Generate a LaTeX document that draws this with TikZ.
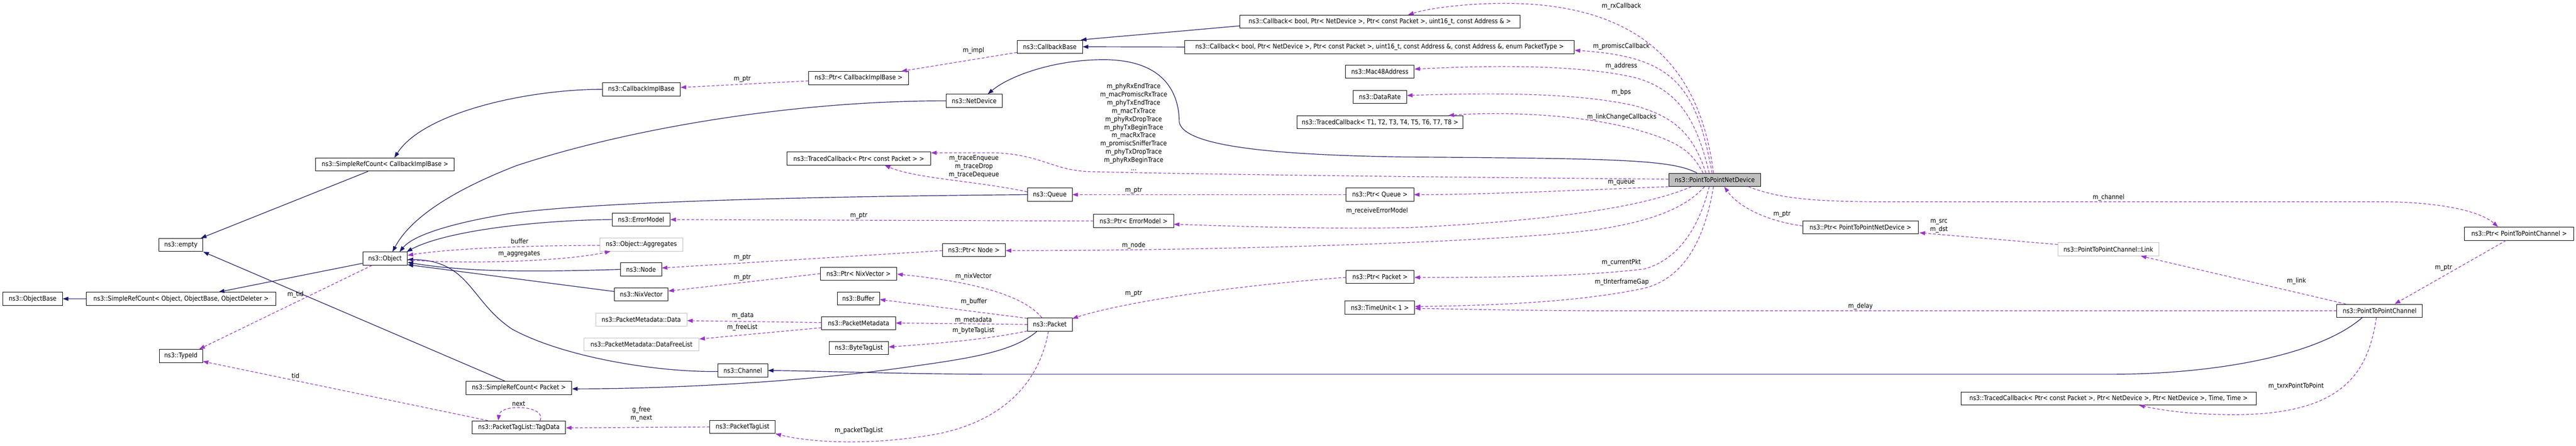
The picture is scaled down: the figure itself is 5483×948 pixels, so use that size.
\documentclass[tikz,border=0pt]{standalone}
\usepackage{fontspec}
\setmainfont{DejaVu Sans}[FakeStretch=0.89]
\usetikzlibrary{arrows.meta}
\definecolor{edgeblue}{HTML}{191970}
\definecolor{edgepurple}{HTML}{9A32CD}
\definecolor{boxgray}{HTML}{BFBFBF}
\newcommand\nf{\fontsize{14}{17.4}\selectfont}
\begin{document}
\begin{tikzpicture}[x=1pt,y=-1pt,
  box/.style={draw=black, line width=1pt, minimum height=28pt, inner sep=2pt, font=\nf, fill=white},
  gbox/.style={box, draw=boxgray},
  inh/.style={draw=edgeblue, line width=1.3pt, -{Triangle[length=12pt,width=8.5pt]}},
  use/.style={draw=edgepurple, line width=1.3pt, dash pattern=on 6pt off 4pt, -{Triangle[length=12pt,width=8.5pt]}},
  lbl/.style={font=\nf, inner sep=0pt, align=center}]
\fill[white] (0,0) rectangle (5483,948);
\useasboundingbox (0,0) rectangle (5483,948);

% ---------- nodes ----------
\node[box, minimum width=127pt] (ObjectBase) at (69.5,635.5) {ns3::ObjectBase};
\node[box, minimum width=403pt] (SRCObj) at (385.5,635.5) {ns3::SimpleRefCount< Object, ObjectBase, ObjectDeleter >};
\node[box, minimum width=94pt] (empty) at (385,521) {ns3::empty};
\node[box, minimum width=92pt] (TypeId) at (385,757) {ns3::TypeId};
\node[box, minimum width=295pt] (SRCCb) at (819.5,350) {ns3::SimpleRefCount< CallbackImplBase >};
\node[box, minimum width=95pt] (Object) at (819.5,550) {ns3::Object};
\node[box, minimum width=225pt] (SRCPacket) at (1104.5,825) {ns3::SimpleRefCount< Packet >};
\node[box, minimum width=199pt] (TagData) at (1104.5,909) {ns3::PacketTagList::TagData};
\node[box, minimum width=166pt] (CallbackImplBase) at (1365,190) {ns3::CallbackImplBase};
\node[box, minimum width=123pt] (ErrorModel) at (1364.5,467) {ns3::ErrorModel};
\node[gbox, minimum width=176pt] (Aggregates) at (1365,520) {ns3::Object::Aggregates};
\node[box, minimum width=87pt] (Node) at (1364.5,573) {ns3::Node};
\node[box, minimum width=114pt] (NixVector) at (1365,626) {ns3::NixVector};
\node[gbox, minimum width=194pt] (PMData) at (1365,680) {ns3::PacketMetadata::Data};
\node[gbox, minimum width=245pt] (DataFreeList) at (1365.5,732.5) {ns3::PacketMetadata::DataFreeList};
\node[box, minimum width=106pt] (Channel) at (1581,788) {ns3::Channel};
\node[box, minimum width=139pt] (PacketTagList) at (1580.5,908) {ns3::PacketTagList};
\node[box, minimum width=213pt] (PtrCb) at (1827.5,166) {ns3::Ptr< CallbackImplBase >};
\node[box, minimum width=306pt] (TCPkt) at (1828,337) {ns3::TracedCallback< Ptr< const Packet > >};
\node[box, minimum width=163pt] (PtrNix) at (1827.5,582) {ns3::Ptr< NixVector >};
\node[box, minimum width=90pt] (Buffer) at (1827,635) {ns3::Buffer};
\node[box, minimum width=157pt] (PacketMetadata) at (1827.5,687.5) {ns3::PacketMetadata};
\node[box, minimum width=126pt] (ByteTagList) at (1828,740) {ns3::ByteTagList};
\node[box, minimum width=139pt] (CallbackBase) at (2234.5,99.5) {ns3::CallbackBase};
\node[box, minimum width=119pt] (NetDevice) at (2073.5,214.5) {ns3::NetDevice};
\node[box, minimum width=95pt] (Queue) at (2234.5,414) {ns3::Queue};
\node[box, minimum width=170pt] (PtrErr) at (2413,470) {ns3::Ptr< ErrorModel >};
\node[box, minimum width=134pt] (PtrNode) at (2073,532) {ns3::Ptr< Node >};
\node[box, minimum width=95pt] (Packet) at (2234.5,690) {ns3::Packet};
\node[box, minimum width=596pt] (CbTop) at (2937,46) {ns3::Callback< bool, Ptr< NetDevice >, Ptr< const Packet >, uint16\_t, const Address \& >};
\node[box, minimum width=829pt] (CbLong) at (2936.5,100) {ns3::Callback< bool, Ptr< NetDevice >, Ptr< const Packet >, uint16\_t, const Address \&, const Address \&, enum PacketType >};
\node[box, minimum width=146pt] (Mac48) at (2937,152.5) {ns3::Mac48Address};
\node[box, minimum width=114pt] (DataRate) at (2937,206) {ns3::DataRate};
\node[box, minimum width=353pt] (TCT) at (2937.5,260) {ns3::TracedCallback< T1, T2, T3, T4, T5, T6, T7, T8 >};
\node[box, minimum width=144pt] (PtrQueue) at (2937,414) {ns3::Ptr< Queue >};
\node[box, minimum width=145pt] (PtrPacket) at (2937.5,589) {ns3::Ptr< Packet >};
\node[box, minimum width=148pt] (TimeUnit) at (2937,654) {ns3::TimeUnit< 1 >};
\node[box, fill=boxgray, minimum width=196pt] (P2PND) at (3650,382.5) {ns3::PointToPointNetDevice};
\node[box, minimum width=246pt] (PtrP2PND) at (3960,483.5) {ns3::Ptr< PointToPointNetDevice >};
\node[box, minimum width=628pt] (TCP2P) at (4488,847.5) {ns3::TracedCallback< Ptr< const Packet >, Ptr< NetDevice >, Ptr< NetDevice >, Time, Time >};
\node[gbox, minimum width=215pt] (Link) at (4487.5,530) {ns3::PointToPointChannel::Link};
\node[box, minimum width=182pt] (P2PCh) at (5065,661) {ns3::PointToPointChannel};
\node[box, minimum width=232pt] (PtrP2PCh) at (5362,497) {ns3::Ptr< PointToPointChannel >};

% ---------- inheritance (solid) ----------
\draw[inh] (SRCObj.west) -- (ObjectBase.east);
\draw[inh] ([yshift=-10pt]Object.west) -- ([xshift=80pt]SRCObj.north);
\draw[inh] ([xshift=-36pt]SRCCb.south) -- ([xshift=-5pt]empty.north east);
\draw[inh] ([xshift=-30pt]SRCPacket.north) -- (empty.south east);
\draw[inh] (CallbackImplBase.west) .. controls (1120,190) and (900,240) .. ([xshift=20pt]SRCCb.north);
\draw[inh] (NetDevice.west) .. controls (1700,214) and (1350,270) .. (1100,352) .. controls (950,410) and (870,470) .. ([xshift=16pt]Object.north);
\draw[inh] (Queue.west) .. controls (1700,418) and (1250,430) .. (1080,455) .. controls (960,475) and (880,500) .. ([xshift=31pt]Object.north);
\draw[inh] (ErrorModel.west) .. controls (1150,468) and (950,490) .. ([xshift=46pt]Object.north);
\draw[inh] ([yshift=-2pt]Channel.west) .. controls (1400,792) and (1200,760) .. (1090,700) .. controls (1000,640) and (1000,553) .. ([yshift=-2pt]Object.east);
\draw[inh] (Node.west) .. controls (1150,578) and (1000,580) .. ([yshift=-8pt]Object.east);
\draw[inh] ([yshift=6pt]NixVector.west) -- ([yshift=-13pt]Object.east);
\draw[inh] ([xshift=-38pt]P2PND.north) .. controls (3560,340) and (3450,337) .. (3000,334) .. controls (2700,330) and (2520,310) .. (2510,260) .. controls (2510,200) and (2480,130) .. (2357,127) .. controls (2250,125) and (2150,160) .. ([xshift=29pt]NetDevice.north);
\draw[inh] ([xshift=-37pt]P2PCh.south) .. controls (4930,760) and (4700,796) .. (4492,796) -- (2100,796) .. controls (1900,795) and (1750,789) .. (Channel.east);
\draw[inh] ([xshift=-27pt]Packet.south) .. controls (2160,745) and (2080,760) .. (1950,778) .. controls (1700,815) and (1400,827) .. ([yshift=-2pt]SRCPacket.east);
\draw[inh] ([yshift=-9pt]CbTop.west) .. controls (2450,72) and (2350,80) .. ([xshift=-4pt]CallbackBase.north east);
\draw[inh] (CbLong.west) -- (CallbackBase.east);

% ---------- usage (dashed) ----------
\draw[use] ([yshift=-12pt]CallbackBase.west) -- ([xshift=-16pt]PtrCb.north east);
\node[lbl] (l1) at (2072,108) {m\_impl};
\draw[use] ([yshift=-6pt]PtrCb.west) -- ([yshift=4pt]CallbackImplBase.east);
\node[lbl] (l2) at (1580,168) {m\_ptr};
\draw[use] ([xshift=-28pt]Object.south) -- ([xshift=39pt]TypeId.north);
\node[lbl] (l3) at (629,626) {m\_tid};
\draw[use] ([xshift=-66pt]TagData.north) -- ([yshift=3pt]TypeId.south east);
\node[lbl] (l4) at (629,799) {tid};
\draw[use] ([xshift=45pt]TagData.north) .. controls (1165,862) and (1065,858) .. ([xshift=-44pt]TagData.north);
\node[lbl] (l5) at (1104,859) {next};
\draw[use] (PacketTagList.west) -- ([yshift=-1pt]TagData.east);
\node[lbl] (l6) at (1365,881) {g\_free\\m\_next};
\draw[use] ([xshift=-3pt]Packet.south) .. controls (2215,800) and (2150,890) .. (2000,922) .. controls (1850,950) and (1720,940) .. (PacketTagList.south east);
\node[lbl] (l7) at (1828,916) {m\_packetTagList};
\draw[use] ([xshift=-17pt]Packet.north) .. controls (2180,630) and (2080,600) .. ([yshift=-1pt]PtrNix.east);
\node[lbl] (l8) at (2072,588) {m\_nixVector};
\draw[use] ([yshift=13pt]Packet.west) -- ([yshift=-2pt]Buffer.east);
\node[lbl] (l9) at (2073,642) {m\_buffer};
\draw[use] (Packet.west) -- ([yshift=0.5pt]PacketMetadata.east);
\node[lbl] (l10) at (2072,681) {m\_metadata};
\draw[use] ([yshift=-14pt]Packet.west) .. controls (2100,722) and (2000,730) .. ([yshift=2pt]ByteTagList.east);
\node[lbl] (l11) at (2072,703) {m\_byteTagList};
\draw[use] ([yshift=-1pt]PtrPacket.west) .. controls (2650,605) and (2400,640) .. ([yshift=-2pt]Packet.north east);
\node[lbl] (l12) at (2413,624) {m\_ptr};
\draw[use] ([yshift=1.5pt]PacketMetadata.west) -- ([yshift=-2pt]PMData.east);
\node[lbl] (l13) at (1581,671) {m\_data};
\draw[use] ([yshift=-9.5pt]PacketMetadata.west) -- ([yshift=11.5pt]DataFreeList.east);
\node[lbl] (l14) at (1580,697) {m\_freeList};
\draw[use] (PtrNix.west) -- ([yshift=7pt]NixVector.east);
\node[lbl] (l15) at (1580,591) {m\_ptr};
\draw[use] ([yshift=-1pt]PtrNode.west) -- ([yshift=3pt]Node.east);
\node[lbl] (l16) at (1580,548) {m\_ptr};
\draw[use] (PtrErr.west) -- (ErrorModel.east);
\node[lbl] (l17) at (1828,459) {m\_ptr};
\draw[use] ([yshift=-2pt]Aggregates.west) .. controls (1100,522) and (950,530) .. ([yshift=7pt]Object.east);
\node[lbl] (l18) at (1106,513) {buffer};
\draw[use] ([yshift=-3pt]Object.east) .. controls (1000,562) and (1200,556) .. ([xshift=23pt]Aggregates.south west);
\node[lbl] (l19) at (1105,540) {m\_aggregates};
\draw[use] ([yshift=1.5pt]P2PND.west) .. controls (3200,378) and (2600,372) .. (2319,365) .. controls (2240,362) and (2220,330) .. (2120,325) -- ([yshift=12pt]TCPkt.east);
\node[lbl] (l20) at (2413,270) {m\_phyRxEndTrace\\m\_macPromiscRxTrace\\m\_phyTxEndTrace\\m\_macTxTrace\\m\_phyRxDropTrace\\m\_phyTxBeginTrace\\m\_macRxTrace\\m\_promiscSnifferTrace\\m\_phyTxDropTrace\\m\_phyRxBeginTrace\\...};
\draw[use] ([yshift=6pt]Queue.west) .. controls (2080,385) and (1950,380) .. ([xshift=55pt]TCPkt.south);
\node[lbl] (l21) at (2073,354.5) {m\_traceEnqueue\\m\_traceDrop\\m\_traceDequeue};
\draw[use] ([xshift=-3pt]P2PND.north) .. controls (3620,150) and (3500,20) .. (3242,8) .. controls (3150,4) and (3050,15) .. ([xshift=60pt]CbTop.north);
\node[lbl] (l22) at (3451,13) {m\_rxCallback};
\draw[use] ([xshift=-6pt]P2PND.north) .. controls (3610,180) and (3560,120) .. ([yshift=-7pt]CbLong.east);
\node[lbl] (l23) at (3451,99) {m\_promiscCallback};
\draw[use] ([xshift=-12pt]P2PND.north) .. controls (3610,250) and (3570,190) .. (3480,165) .. controls (3350,135) and (3150,140) .. ([yshift=5.5pt]Mac48.east);
\node[lbl] (l24) at (3451,141) {m\_address};
\draw[use] ([xshift=-19pt]P2PND.north) .. controls (3605,290) and (3570,250) .. (3480,225) .. controls (3350,195) and (3150,198) .. ([yshift=3pt]DataRate.east);
\node[lbl] (l25) at (3451,197) {m\_bps};
\draw[use] ([xshift=-25pt]P2PND.north) .. controls (3600,320) and (3570,300) .. (3480,275) .. controls (3350,240) and (3180,238) .. ([xshift=145.5pt]TCT.north);
\node[lbl] (l26) at (3452,249) {m\_linkChangeCallbacks};
\draw[use] (P2PND.south west) .. controls (3350,405) and (3150,414) .. (PtrQueue.east);
\node[lbl] (l27) at (3451,389) {m\_queue};
\draw[use] (PtrQueue.west) -- (Queue.east);
\node[lbl] (l28) at (2413,405) {m\_ptr};
\draw[use] ([xshift=-50pt]P2PND.south) .. controls (3500,440) and (3300,470) .. (3000,484) .. controls (2800,488) and (2600,480) .. ([yshift=-7pt]PtrErr.east);
\node[lbl] (l29) at (2931,449) {m\_receiveErrorModel};
\draw[use] ([xshift=-22pt]P2PND.south) .. controls (3590,440) and (3520,470) .. (3400,488) .. controls (3200,515) and (2600,533) .. ([yshift=-1pt]PtrNode.east);
\node[lbl] (l30) at (2413,522) {m\_node};
\draw[use] ([xshift=-12pt]P2PND.south) .. controls (3620,470) and (3580,550) .. (3500,572) .. controls (3350,590) and (3150,590) .. ([yshift=-1pt]PtrPacket.east);
\node[lbl] (l31) at (3451,558) {m\_currentPkt};
\draw[use] ([xshift=-3pt]P2PND.south) .. controls (3630,500) and (3590,590) .. (3500,613) .. controls (3350,645) and (3150,650) .. ([yshift=2pt]TimeUnit.east);
\node[lbl] (l32) at (3452,600) {m\_tInterframeGap};
\draw[use] (P2PCh.west) -- (3400,661) .. controls (3200,660) and (3100,657) .. ([yshift=-2pt]TimeUnit.east);
\node[lbl] (l33) at (3960,652) {m\_delay};
\draw[use] ([yshift=3pt]PtrP2PND.west) .. controls (3760,470) and (3700,440) .. ([xshift=20pt]P2PND.south);
\node[lbl] (l34) at (3793,456) {m\_ptr};
\draw[use] ([yshift=10pt]Link.west) -- ([xshift=2pt,yshift=3pt]PtrP2PND.south east);
\node[lbl] (l35) at (4127,480.5) {m\_src\\m\_dst};
\draw[use] ([xshift=-72pt]P2PCh.north) -- ([xshift=69pt]Link.south);
\node[lbl] (l36) at (4888,598) {m\_link};
\draw[use] ([xshift=-27pt]P2PND.south east) .. controls (3780,420) and (3850,429) .. (4000,429) -- (5070,429) .. controls (5200,430) and (5280,450) .. ([xshift=-45pt]PtrP2PCh.north);
\node[lbl] (l37) at (4488,420) {m\_channel};
\draw[use] ([xshift=-28pt]PtrP2PCh.south) -- ([xshift=32pt]P2PCh.north);
\node[lbl] (l38) at (5201,570) {m\_ptr};
\draw[use] ([xshift=-7pt]P2PCh.south) .. controls (5040,800) and (4980,880) .. (4760,882) .. controls (4660,882) and (4600,872) .. ([xshift=65pt]TCP2P.south);
\node[lbl] (l39) at (4887,822) {m\_txrxPointToPoint};
\end{tikzpicture}
\end{document}
